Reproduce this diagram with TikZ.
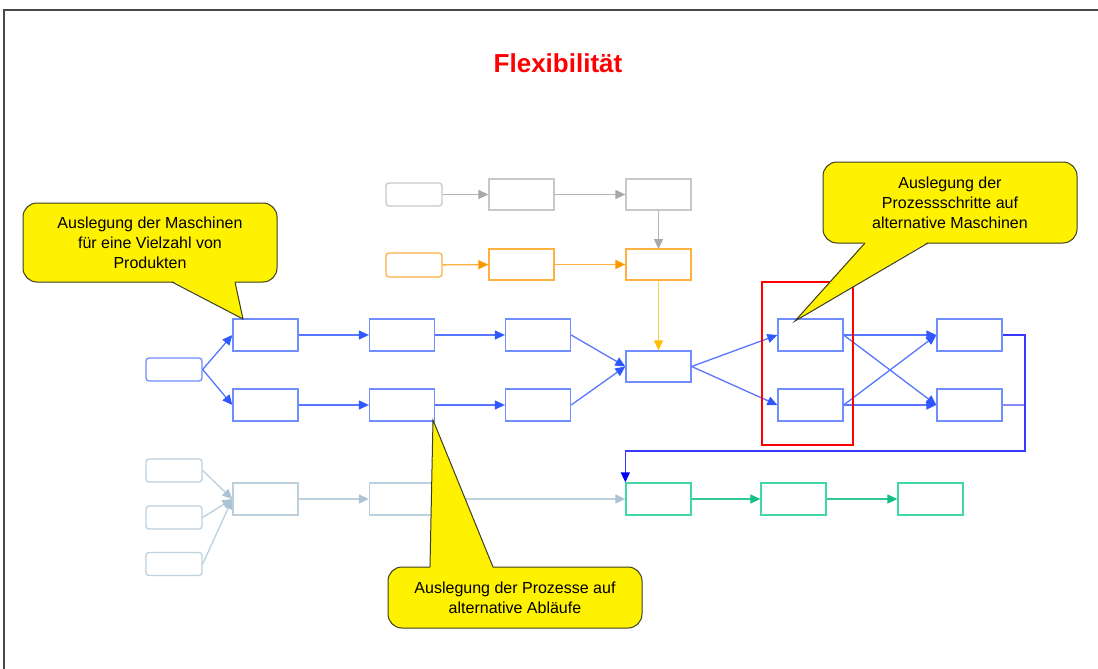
\documentclass[tikz,border=0pt]{standalone}
\usepackage{fontspec}
\setmainfont{Liberation Sans}
\usetikzlibrary{arrows.meta}

\definecolor{bluebox}{RGB}{112,142,255}
\definecolor{blueline}{RGB}{88,118,255}
\definecolor{bluehead}{RGB}{48,88,255}
\definecolor{graybox}{RGB}{200,200,200}
\definecolor{grayline}{RGB}{180,180,180}
\definecolor{grayhead}{RGB}{168,168,168}
\definecolor{orangebox}{RGB}{255,176,64}
\definecolor{orangehead}{RGB}{255,153,0}
\definecolor{goldline}{RGB}{255,208,80}
\definecolor{goldhead}{RGB}{255,192,0}
\definecolor{paleline}{RGB}{188,208,222}
\definecolor{palehead}{RGB}{170,196,212}
\definecolor{greenbox}{RGB}{64,216,168}
\definecolor{greenline}{RGB}{48,200,152}
\definecolor{greenhead}{RGB}{16,192,128}
\definecolor{deepblue}{RGB}{56,56,255}
\definecolor{deephead}{RGB}{0,0,255}
\definecolor{lightpurple}{RGB}{136,136,255}
\definecolor{framegray}{RGB}{72,72,72}
\definecolor{calloutline}{RGB}{60,60,30}

\tikzset{
  box/.style={draw=#1, line width=1.3pt, minimum width=65pt, minimum height=32pt, inner sep=0pt},
  srcbox/.style={draw=#1, line width=1.3pt, rounded corners=3pt, minimum width=56pt, minimum height=23pt, inner sep=0pt},
  flow/.style={line width=1.3pt, draw=#1},
  tip/.style={-{Triangle[length=10pt,width=9pt,color=#1]}},
  callout/.style={fill=yellow, draw=calloutline, line width=1pt, rounded corners=14pt,
    inner sep=0pt, align=center, font=\fontsize{16}{20}\selectfont},
  pointer/.style={fill=yellow},
  pointeredge/.style={draw=calloutline, line width=1pt},
}

\begin{document}
\begin{tikzpicture}[x=1pt,y=-1pt]
\useasboundingbox (0,0) rectangle (1098,669);
\fill[white] (0,0) rectangle (1098,669);

% frame
\draw[framegray, line width=2pt] (4,669) -- (4,10) -- (1098,10);

% title
\node[text=red, font=\fontsize{26}{30}\selectfont\bfseries] (title) at (558,63) {Flexibilität};

% grey chain
\node[srcbox=graybox] (gs) at (414,194.5) [minimum height=23pt] {};
\node[box=graybox, minimum height=31pt] (gb2) at (521.5,194.5) {};
\node[box=graybox, minimum height=31pt] (gb3) at (658.5,194.5) {};
\draw[flow=grayline, tip=grayhead] (gs) -- (gb2);
\draw[flow=grayline, tip=grayhead] (gb2) -- (gb3);
\draw[flow=grayline, tip=grayhead] (gb3) -- (gb3 |- 249,249);

% orange chain
\node[srcbox=orangebox, minimum height=24pt] (os) at (414,265) {};
\node[box=orangebox, minimum height=31pt] (ob2) at (521.5,264.5) {};
\node[box=orangebox, minimum height=31pt] (ob3) at (658.5,264.5) {};
\draw[flow=orangebox, tip=orangehead] (os) -- (ob2);
\draw[flow=orangebox, tip=orangehead] (ob2) -- (ob3);

% main blue process
\node[srcbox=bluebox] (st) at (174,369.5) {};
\node[box=bluebox] (b11) at (265.5,335) {};
\node[box=bluebox] (b12) at (402,335) {};
\node[box=bluebox] (b13) at (538,335) {};
\node[box=bluebox] (b21) at (265.5,405) {};
\node[box=bluebox] (b22) at (402,405) {};
\node[box=bluebox] (b23) at (538,405) {};
\node[box=bluebox, minimum height=31pt] (mg) at (658.5,366.5) {};
\node[box=bluebox] (a1) at (810.5,335) {};
\node[box=bluebox] (a2) at (810.5,405) {};
\node[box=bluebox] (c1) at (969.5,335) {};
\node[box=bluebox] (c2) at (969.5,405) {};

\draw[flow=goldline, tip=goldhead] (ob3) -- (mg);

\draw[flow=blueline, tip=bluehead] (st.east) -- (b11.west);
\draw[flow=blueline, tip=bluehead] (st.east) -- (b21.west);
\draw[flow=blueline, tip=bluehead] (b11) -- (b12);
\draw[flow=blueline, tip=bluehead] (b12) -- (b13);
\draw[flow=blueline, tip=bluehead] (b21) -- (b22);
\draw[flow=blueline, tip=bluehead] (b22) -- (b23);
\draw[flow=blueline, tip=bluehead] (b13.east) -- (mg.west);
\draw[flow=blueline, tip=bluehead] (b23.east) -- (mg.west);
\draw[flow=blueline, tip=bluehead] (mg.east) -- (a1.west);
\draw[flow=blueline, tip=bluehead] (mg.east) -- (a2.west);
\draw[flow=blueline, tip=bluehead] (a1.east) -- (c1.west);
\draw[flow=blueline, tip=bluehead] (a1.east) -- (c2.west);
\draw[flow=blueline, tip=bluehead] (a2.east) -- (c1.west);
\draw[flow=blueline, tip=bluehead] (a2.east) -- (c2.west);

% pale feeder chain
\node[srcbox=paleline] (p1) at (174,470.5) {};
\node[srcbox=paleline] (p2) at (174,517.5) {};
\node[srcbox=paleline] (p3) at (174,564) {};
\node[box=paleline] (pb1) at (265.5,499) {};
\node[box=paleline] (pb2) at (402,499) {};

% green chain
\node[box=greenbox] (g1) at (658.5,499) {};
\node[box=greenbox] (g2) at (793.5,499) {};
\node[box=greenbox] (g3) at (930.5,499) {};

\draw[flow=paleline, tip=palehead] (p1.east) -- (pb1.west);
\draw[flow=paleline, tip=palehead] (p2.east) -- (pb1.west);
\draw[flow=paleline, tip=palehead] (p3.east) -- (pb1.west);
\draw[flow=paleline, tip=palehead] (pb1) -- (pb2);
\draw[flow=paleline, tip=palehead] (pb2) -- (g1);
\draw[flow=greenline, tip=greenhead] (g1) -- (g2);
\draw[flow=greenline, tip=greenhead] (g2) -- (g3);

% return loop from the alternative machines
\coordinate (rt) at (1025,451);
\draw[flow=lightpurple] (c2.east) -- (c2.east -| rt);
\draw[flow=deepblue, tip=deephead] (c1.east) -| (rt) -| (g1.north west);

% highlight of the alternative machines
\node[draw=red, line width=2pt, minimum width=91pt, minimum height=163pt, inner sep=0pt] (hl) at (807.5,363.5) {};

% callout: machines for many products
\node[callout, minimum width=254pt, minimum height=79pt] (co1) at (150,242.5)
  {Auslegung der Maschinen\\für eine Vielzahl von\\Produkten};
\coordinate (co1tip) at (243,319);
\fill[pointer] (172,281) -- (235,281) -- (co1tip) -- cycle;
\draw[pointeredge] (172,282) -- (co1tip) -- (235,282);

% callout: process steps on alternative machines
\node[callout, minimum width=254pt, minimum height=81pt] (co2) at (950,202.5)
  {Auslegung der\\Prozessschritte auf\\alternative Maschinen};
\coordinate (co2tip) at (795,321);
\fill[pointer] (865,242) -- (928,242) -- (co2tip) -- cycle;
\draw[pointeredge] (865,243) -- (co2tip) -- (928,243);

% callout: processes on alternative sequences
\node[callout, minimum width=254pt, minimum height=61pt] (co3) at (515,597.5)
  {Auslegung der Prozesse auf\\alternative Abläufe};
\coordinate (co3tip) at (433,420);
\fill[pointer] (430,568) -- (493,568) -- (co3tip) -- cycle;
\draw[pointeredge] (430,567) -- (co3tip) -- (493,567);

\end{tikzpicture}
\end{document}
